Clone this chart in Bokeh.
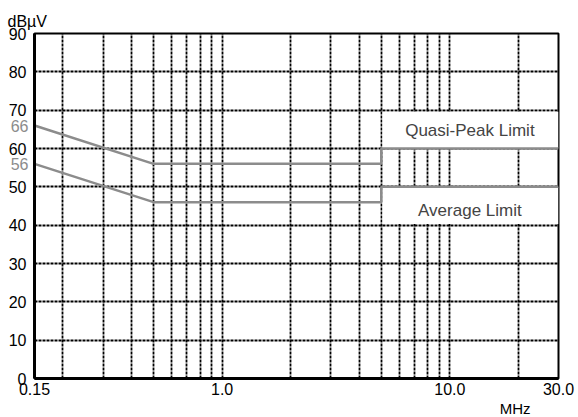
from bokeh.plotting import figure
from bokeh.models import FixedTicker, Label, Range1d, LinearAxis, Title
from bokeh.embed import file_html
from bokeh.resources import INLINE
import math

# ---- data ----
qp_freq = [0.15, 0.5, 5.0, 5.0, 30.0]
qp_level = [66, 56, 56, 60, 60]
avg_freq = [0.15, 0.5, 5.0, 5.0, 30.0]
avg_level = [56, 46, 46, 50, 50]

x_tick_values = [0.15, 1.0, 10.0, 30.0]
x_tick_labels = ["0.15", "1.0", "10.0", "30.0"]
x_grid_values = [0.2, 0.3, 0.4, 0.5, 0.6, 0.7, 0.8, 0.9, 1.0,
                 2, 3, 4, 5, 6, 7, 8, 9, 10, 20]
y_tick_values = [0, 10, 20, 30, 40, 50, 60, 70, 80, 90]
y_grid_values = [10, 20, 30, 40, 50, 60, 70, 80]
start_labels = ["66", "56"]
start_values = [66, 56]
box_texts = ["Quasi-Peak Limit", "Average Limit"]

FONT = "Liberation Sans"
GRAY = "#8c8c8c"

p = figure(width=578, height=417, x_axis_type="log",
           x_range=Range1d(0.15, 30), y_range=Range1d(0, 90),
           output_backend="svg", toolbar_location=None,
           min_border_left=34, min_border_right=20,
           min_border_top=33, min_border_bottom=39)

p.background_fill_color = "white"
p.border_fill_color = "white"
p.outline_line_color = "black"
p.outline_line_width = 2

# axes
p.xaxis.ticker = FixedTicker(ticks=x_tick_values)
p.xaxis.major_label_overrides = {v: l for v, l in zip(x_tick_values, x_tick_labels)}
p.yaxis.ticker = FixedTicker(ticks=y_tick_values)
for ax in (p.xaxis[0], p.yaxis[0]):
    ax.axis_line_color = "black"
    ax.axis_line_width = 3
    ax.major_tick_line_color = None
    ax.minor_tick_line_color = None
    ax.major_tick_out = 0
    ax.major_tick_in = 0
    ax.major_label_text_font = FONT
    ax.major_label_text_font_size = "16px"
    ax.major_label_text_color = "black"
p.xaxis.major_label_standoff = 4
p.yaxis.major_label_standoff = 8

# gray start-level labels on an extra left axis, pulled onto the main labels
gray_axis = LinearAxis(ticker=FixedTicker(ticks=start_values),
                       major_label_overrides={v: l for v, l in zip(start_values, start_labels)},
                       axis_line_color=None, major_tick_line_color=None,
                       minor_tick_line_color=None, major_tick_out=0, major_tick_in=0,
                       major_label_text_font=FONT, major_label_text_font_size="16px",
                       major_label_text_color=GRAY, major_label_standoff=-23)
p.add_layout(gray_axis, "left")

# grids
p.xgrid.ticker = FixedTicker(ticks=x_grid_values)
p.ygrid.ticker = FixedTicker(ticks=y_grid_values)
for g in (p.xgrid[0], p.ygrid[0]):
    g.grid_line_color = "black"
    g.grid_line_width = 1.8
    g.grid_line_dash = "3 1"

# white label boxes covering the grid
p.quad(left=[qp_freq[3] * 1.012, avg_freq[3] * 1.012], right=[qp_freq[-1], avg_freq[-1]],
       bottom=[qp_level[-1], avg_level[-1] - 9.7],
       top=[qp_level[-1] + 9.6, avg_level[-1]],
       fill_color="white", line_color=None)

# limit lines
p.line(qp_freq, qp_level, line_color=GRAY, line_width=2.5)
p.line(avg_freq, avg_level, line_color=GRAY, line_width=2.5)

# box texts
xc = math.sqrt(qp_freq[3] * qp_freq[-1])
p.add_layout(Label(x=xc, y=qp_level[-1] + 4.6, text=box_texts[0],
                   text_align="center", text_baseline="middle",
                   text_font=FONT, text_font_size="17px", text_color="#444444"))
p.add_layout(Label(x=xc, y=avg_level[-1] - 6.2, text=box_texts[1],
                   text_align="center", text_baseline="middle",
                   text_font=FONT, text_font_size="17px", text_color="#444444"))

# unit labels
p.add_layout(Title(text="dBµV", align="left", offset=-27, standoff=8,
                   text_font=FONT, text_font_size="16px", text_font_style="normal",
                   text_color="black"), "above")
p.add_layout(Title(text="MHz", align="right", offset=28, standoff=0,
                   text_font=FONT, text_font_size="15px", text_font_style="normal",
                   text_color="black"), "below")

open("out.html", "w").write(file_html(p, INLINE))
